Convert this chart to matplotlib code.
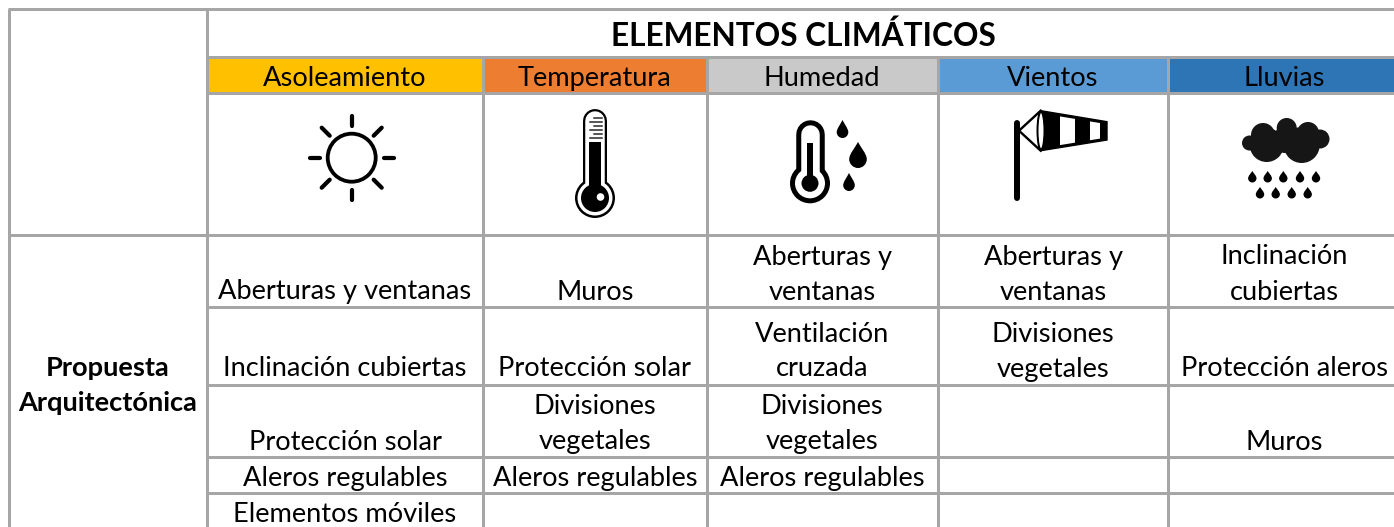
import matplotlib
matplotlib.use('Agg')
import matplotlib.pyplot as plt
from matplotlib.patches import Circle, Ellipse, PathPatch, Polygon, Rectangle
from matplotlib.path import Path

title = 'ELEMENTOS CLIMÁTICOS'
side_label = ['Propuesta', 'Arquitectónica']
elements = ['Asoleamiento', 'Temperatura', 'Humedad', 'Vientos', 'Lluvias']
element_colors = ['#FFC000', '#ED7D31', '#C9C9C9', '#5B9BD5', '#2E75B6']

asoleamiento = [['Aberturas y ventanas'], ['Inclinación cubiertas'],
                ['Protección solar'], ['Aleros regulables'],
                ['Elementos móviles']]
temperatura = [['Muros'], ['Protección solar'], ['Divisiones', 'vegetales'],
               ['Aleros regulables'], []]
humedad = [['Aberturas y', 'ventanas'], ['Ventilación', 'cruzada'],
           ['Divisiones', 'vegetales'], ['Aleros regulables'], []]
vientos = [['Aberturas y', 'ventanas'], ['Divisiones', 'vegetales'], [], [], []]
lluvias = [['Inclinación', 'cubiertas'], ['Protección aleros'], ['Muros'], [], []]
columns = [asoleamiento, temperatura, humedad, vientos, lluvias]

# layout, in pixels of the reference
W, H = 1394, 527
col_edges = [206.7, 483.2, 706.5, 938, 1168, 1401]
row_edges = [307.3, 384.5, 456.8, 493]
row_baselines = [299.5, 376.5, 449.5, 486, 522]
GRID = '#A6A6A6'
FONT = 'Lato'
FS = 19.6
LINE = 35
PX = 0.72


def draw_grid(ax):
    for i in range(5):
        ax.add_patch(Rectangle((col_edges[i], 57), col_edges[i + 1] - col_edges[i], 36,
                               facecolor=element_colors[i], edgecolor='none', zorder=1))
    lw = 3 * PX
    ax.plot([7.5, W], [9.3, 9.3], color=GRID, lw=lw, solid_capstyle='butt', zorder=2)
    ax.plot([9, 9], [9, H], color=GRID, lw=lw, solid_capstyle='butt', zorder=2)
    ax.plot([col_edges[0]] * 2, [9, H], color=GRID, lw=lw, solid_capstyle='butt', zorder=2)
    ax.plot([9, W], [235, 235], color=GRID, lw=lw, solid_capstyle='butt', zorder=2)
    for y in [56.8, 93.3] + row_edges:
        ax.plot([col_edges[0], W], [y, y], color=GRID, lw=lw, solid_capstyle='butt', zorder=2)
    for x in col_edges[1:-1]:
        ax.plot([x, x], [56.8, H], color=GRID, lw=lw, solid_capstyle='butt', zorder=2)


def draw_drop(ax, cx, top, bottom, half, color='black'):
    r = half
    cy = bottom - r
    k = 0.55 * r
    verts = [(cx, top),
             (cx + 0.3 * r, top + 0.3 * (cy - top)), (cx + r, cy - 0.6 * r), (cx + r, cy),
             (cx + r, cy + k), (cx + k, bottom), (cx, bottom),
             (cx - k, bottom), (cx - r, cy + k), (cx - r, cy),
             (cx - r, cy - 0.6 * r), (cx - 0.3 * r, top + 0.3 * (cy - top)), (cx, top)]
    codes = [Path.MOVETO] + [Path.CURVE4] * 12
    ax.add_patch(PathPatch(Path(verts, codes), facecolor=color, edgecolor='none', zorder=4))


def draw_sun(ax):
    cx, cy = 351.7, 157.7
    ax.add_patch(Circle((cx, cy), 24, facecolor='white', edgecolor='black', lw=3.8 * PX, zorder=4))
    for dx, dy in [(0, -1), (0, 1), (-1, 0), (1, 0)]:
        ax.plot([cx + 32 * dx, cx + 42 * dx], [cy + 32 * dy, cy + 42 * dy],
                color='black', lw=4.2 * PX, solid_capstyle='round', zorder=4)
    for dx, dy in [(-1, -1), (1, -1), (-1, 1), (1, 1)]:
        ax.plot([cx + 22 * dx, cx + 30 * dx], [cy + 22 * dy, cy + 30 * dy],
                color='black', lw=4.2 * PX, solid_capstyle='round', zorder=4)


def round_stem(ax, x, y0, y1, width, color, z):
    ax.plot([x, x], [y0, y1], color=color, lw=width * PX, solid_capstyle='round', zorder=z)


def draw_thermometer(ax):
    x = 595
    bulb = 198
    ax.add_patch(Circle((x, bulb), 20, facecolor='black', edgecolor='none', zorder=4))
    round_stem(ax, x, 120.5, bulb, 24, 'black', 4)
    ax.add_patch(Circle((x, bulb), 17.5, facecolor='white', edgecolor='none', zorder=5))
    round_stem(ax, x, 120.5, bulb, 19.5, 'white', 5)
    ax.add_patch(Circle((x, bulb), 14, facecolor='black', edgecolor='none', zorder=6))
    ax.add_patch(Rectangle((x - 6, 141.5), 12, bulb - 141.5, facecolor='black', edgecolor='none', zorder=6))
    ax.add_patch(Circle((x + 5.5, bulb - 1), 3.8, facecolor='white', edgecolor='none', zorder=7))
    for i, y in enumerate([118, 122, 126, 130, 134, 138]):
        left = x - 1 if i % 2 == 0 else x - 5
        ax.plot([left, x + 7], [y, y], color='#222222', lw=1.5 * PX, zorder=6)


def draw_humidity(ax):
    x = 810
    bulb = 183.3
    ax.add_patch(Circle((x, bulb), 20, facecolor='black', edgecolor='none', zorder=4))
    round_stem(ax, x, 134, bulb, 28.5, 'black', 4)
    ax.add_patch(Circle((x, bulb), 15, facecolor='white', edgecolor='none', zorder=5))
    round_stem(ax, x, 134, bulb, 18.5, 'white', 5)
    ax.add_patch(Circle((x, bulb), 8.5, facecolor='black', edgecolor='none', zorder=6))
    ax.add_patch(Rectangle((x - 2.9, 143), 5.8, bulb - 143, facecolor='black', edgecolor='none', zorder=6))
    draw_drop(ax, 842.5, 120, 138, 5.8)
    draw_drop(ax, 858, 142, 168, 8.8)
    draw_drop(ax, 849, 173, 191, 5.8)


def sock_edge(x):
    # top and bottom of the sock at a given x
    t = (x - 1040.7) / (1107 - 1040.7)
    return 110.7 + t * 11, 150.7 - t * 10.7


def draw_windsock(ax):
    round_stem(ax, 1017, 123, 198, 6, 'black', 4)
    ax.plot([1040.7, 1019, 1040.7], [110.7, 130.7, 150.7], color='black', lw=2.4 * PX, zorder=4)
    t0, b0 = sock_edge(1040.7)
    t1, b1 = sock_edge(1107)
    ax.add_patch(Polygon([(1040.7, t0), (1107, t1), (1107, b1), (1040.7, b0)],
                         facecolor='black', edgecolor='black', lw=1, zorder=4))
    for a, b in [(1060, 1075), (1090, 1100)]:
        ta, ba = sock_edge(a)
        tb, bb = sock_edge(b)
        ax.add_patch(Polygon([(a, ta + 2.5), (b, tb + 2.5), (b, bb - 2.5), (a, ba - 2.5)],
                             facecolor='white', edgecolor='none', zorder=5))
    ax.add_patch(Ellipse((1041, 130.7), 7, 38, facecolor='white', edgecolor='black', lw=2 * PX, zorder=6))


def draw_cloud(ax):
    color = '#161616'
    blobs = [(1249.5, 143, 7.5), (1266.7, 145, 17), (1301.7, 145, 18), (1286.7, 128, 10),
             (1320, 139, 9.5), (1263, 135, 12), (1308, 133, 11), (1285, 140, 13)]
    for x, y, r in blobs:
        ax.add_patch(Circle((x, y), r, facecolor=color, edgecolor='none', zorder=4))
    for x in [1252.3, 1267.7, 1283.3, 1300, 1316]:
        draw_drop(ax, x, 171, 182.5, 4.2)
    for x in [1260, 1275.7, 1291.7, 1307.7]:
        draw_drop(ax, x, 187, 198.5, 4.2)


def main():
    plt.rcParams['font.family'] = [FONT, 'DejaVu Sans']
    fig = plt.figure(figsize=(W / 100, H / 100), dpi=100)
    ax = fig.add_axes([0, 0, 1, 1])
    ax.set_xlim(0, W)
    ax.set_ylim(H, 0)
    ax.axis('off')

    draw_grid(ax)
    draw_sun(ax)
    draw_thermometer(ax)
    draw_humidity(ax)
    draw_windsock(ax)
    draw_cloud(ax)

    ax.text(803, 46, title, fontsize=22.8, fontweight='bold', ha='center', va='baseline', zorder=8)
    ax.text(108, 376.5, side_label[0], fontsize=FS, fontweight='bold', ha='center', va='baseline', zorder=8)
    ax.text(108, 411, side_label[1], fontsize=FS, fontweight='bold', ha='center', va='baseline', zorder=8)

    for i, col in enumerate(columns):
        cx = (col_edges[i] + col_edges[i + 1]) / 2
        ax.text(cx, 86, elements[i], fontsize=FS, ha='center', va='baseline', zorder=8)
        for r, lines in enumerate(col):
            for k, line in enumerate(reversed(lines)):
                ax.text(cx, row_baselines[r] - k * LINE, line, fontsize=FS,
                        ha='center', va='baseline', zorder=8)

    fig.savefig('out.png', dpi=100)


if __name__ == '__main__':
    main()
